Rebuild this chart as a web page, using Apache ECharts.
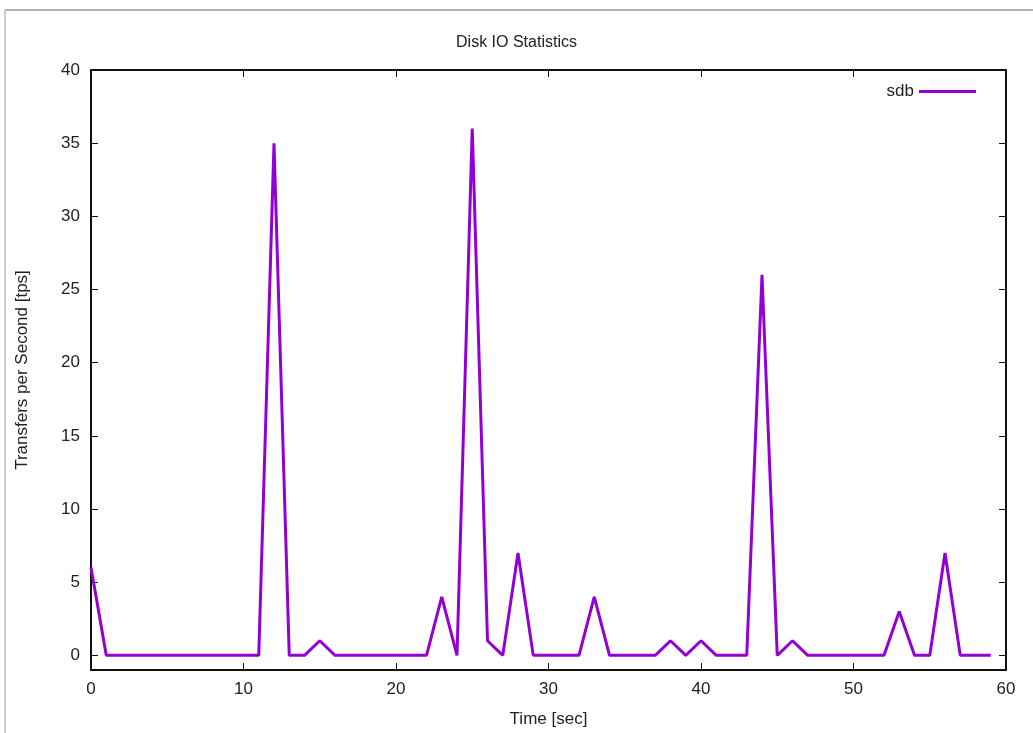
<!DOCTYPE html>
<html>
<head>
<meta charset="utf-8">
<script src="https://cdn.jsdelivr.net/npm/echarts@6/dist/echarts.min.js"></script>
<style>
html,body{margin:0;padding:0;background:#fff;}
#chart{width:1033px;height:733px;}
</style>
</head>
<body>
<div id="chart"></div>
<script>
const times = [0,1,2,3,4,5,6,7,8,9,10,11,12,13,14,15,16,17,18,19,20,21,22,23,24,25,26,27,28,29,30,31,32,33,34,35,36,37,38,39,40,41,42,43,44,45,46,47,48,49,50,51,52,53,54,55,56,57,58,59];
const sdb = [6,0,0,0,0,0,0,0,0,0,0,0,35,0,0,1,0,0,0,0,0,0,0,4,0,36,1,0,7,0,0,0,0,4,0,0,0,0,1,0,1,0,0,0,26,0,1,0,0,0,0,0,0,3,0,0,7,0,0,0];
const yTicks = [0,5,10,15,20,25,30,35,40];
const xTicks = [0,10,20,30,40,50,60];
const titleText = 'Disk IO Statistics';
const xName = 'Time [sec]';
const yName = 'Transfers per Second [tps]';
const seriesName = 'sdb';

const font = 'Liberation Sans, Arial, sans-serif';
const chart = echarts.init(document.getElementById('chart'), null, {renderer:'canvas'});
const axisLineStyle = {color:'#111', width:2};
const tickStyle = {color:'#111', width:1};
chart.setOption({
  animation:false,
  backgroundColor:'#fff',
  title:{text:titleText, left:'center', top:30, textStyle:{fontFamily:font, fontSize:16, fontWeight:'normal', color:'#222'}},
  legend:{right:52, top:78, align:'right', icon:'rect', itemWidth:57, itemHeight:3, itemGap:9,
    textStyle:{fontFamily:font, fontSize:17, color:'#222'}, data:[seriesName]},
  grid:{left:91, top:70, right:27, bottom:62, containLabel:false},
  xAxis:[{type:'value', min:0, max:60, interval:10, position:'bottom',
      name:xName, nameLocation:'middle', nameGap:41, nameTextStyle:{fontFamily:font, fontSize:17, color:'#222'},
      axisLine:{show:true, onZero:false, lineStyle:axisLineStyle},
      axisTick:{show:true, inside:true, length:7, lineStyle:tickStyle, customValues:xTicks},
      axisLabel:{fontFamily:font, fontSize:17, color:'#222', margin:11, customValues:xTicks},
      splitLine:{show:false}},
    {type:'value', min:0, max:60, interval:10, position:'top',
      axisLine:{show:true, onZero:false, lineStyle:axisLineStyle},
      axisTick:{show:true, inside:true, length:7, lineStyle:tickStyle, customValues:xTicks},
      axisLabel:{show:false}, splitLine:{show:false}}],
  yAxis:[{type:'value', min:-1, max:40, position:'left',
      name:yName, nameLocation:'middle', nameGap:60, nameTextStyle:{fontFamily:font, fontSize:17, color:'#222'},
      axisLine:{show:true, onZero:false, lineStyle:axisLineStyle},
      axisTick:{show:true, inside:true, length:7, lineStyle:tickStyle, customValues:yTicks},
      axisLabel:{fontFamily:font, fontSize:17, color:'#222', margin:11, customValues:yTicks},
      splitLine:{show:false}},
    {type:'value', min:-1, max:40, position:'right',
      axisLine:{show:true, onZero:false, lineStyle:axisLineStyle},
      axisTick:{show:true, inside:true, length:7, lineStyle:tickStyle, customValues:yTicks},
      axisLabel:{show:false}, splitLine:{show:false}}],
  graphic:[
    {type:'line', shape:{x1:5, y1:10, x2:1033, y2:10}, style:{stroke:'#999', lineWidth:1.5}},
    {type:'line', shape:{x1:5, y1:10, x2:5, y2:733}, style:{stroke:'#bbb', lineWidth:1.5}}
  ],
  series:[{name:seriesName, type:'line', xAxisIndex:0, yAxisIndex:0,
    data:times.map((t,i)=>[t, sdb[i]]), symbol:'none',
    lineStyle:{color:'#9400D3', width:3}, itemStyle:{color:'#9400D3'}}]
});
</script>
</body>
</html>
